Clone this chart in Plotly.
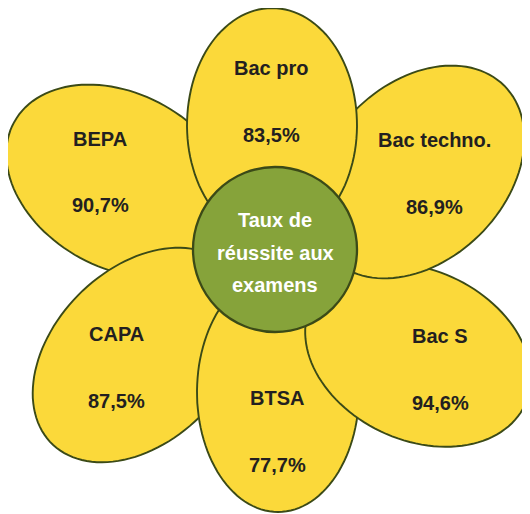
import numpy as np
import plotly.graph_objects as go

# data
exams = ["BEPA", "CAPA", "BTSA", "Bac S", "Bac techno.", "Bac pro"]
success_rate = [90.7, 87.5, 77.7, 94.6, 86.9, 83.5]
centre_title = ["Taux de", "réussite aux", "examens"]

# petal geometry (pixels, y down): centre x, centre y, half-length, half-width, tilt in degrees
petal_cx = [121, 140, 278, 418, 418, 272]
petal_cy = [181, 355, 392, 355, 172, 125]
petal_a = [122, 125, 120, 118, 122, 117]
petal_b = [87, 86, 81, 85, 88, 85]
petal_tilt = [151, 45, 270, -25, 45, 90]
# label anchors
name_x = [100, 116, 277, 440, 434, 271]
name_y = [139, 334, 398, 336, 140, 68]
value_y = [205, 401, 465, 403, 207, 135]

YELLOW = "#FBD93A"
EDGE = "#3B4A17"
GREEN = "#86A33A"
FONT = "Liberation Sans Narrow, Arial Narrow, Liberation Sans, Arial, sans-serif"
PAGE_MARGIN = 8  # default body margin of the html page


def ellipse_path(cx, cy, a, b, tilt):
    t = np.linspace(0, 2 * np.pi, 120)
    th = np.radians(tilt)
    ux, uy = np.cos(th), -np.sin(th)
    vx, vy = np.sin(th), np.cos(th)
    xs = cx + a * np.cos(t) * ux + b * np.sin(t) * vx
    ys = cy + a * np.cos(t) * uy + b * np.sin(t) * vy
    pts = " L".join(f"{x:.1f},{y:.1f}" for x, y in zip(xs, ys))
    return "M" + pts + " Z"


fig = go.Figure()

shapes = []
for i in range(len(exams)):
    shapes.append(dict(
        type="path",
        path=ellipse_path(petal_cx[i], petal_cy[i], petal_a[i], petal_b[i], petal_tilt[i]),
        fillcolor=YELLOW,
        line=dict(color=EDGE, width=1.9),
        xref="x", yref="y",
    ))
shapes.append(dict(
    type="circle", xref="x", yref="y",
    x0=193, x1=357, y0=167, y1=332,
    fillcolor=GREEN, line=dict(color=EDGE, width=2.3),
))

annotations = []
for i, name in enumerate(exams):
    annotations.append(dict(
        x=name_x[i], y=name_y[i], text=f"<b>{name}</b>", showarrow=False,
        font=dict(family=FONT, size=20, color="#231F20"),
    ))
    annotations.append(dict(
        x=name_x[i], y=value_y[i],
        text="<b>" + f"{success_rate[i]:.1f}".replace(".", ",") + "%</b>",
        showarrow=False,
        font=dict(family=FONT, size=20, color="#231F20"),
    ))
for line_text, yy in zip(centre_title, [220, 253, 285]):
    annotations.append(dict(
        x=275, y=yy, text=f"<b>{line_text}</b>", showarrow=False,
        font=dict(family=FONT, size=20, color="white"),
    ))

fig.update_layout(
    width=530, height=514,
    margin=dict(l=0, r=0, t=0, b=0),
    paper_bgcolor="white", plot_bgcolor="white",
    xaxis=dict(range=[PAGE_MARGIN, 530 + PAGE_MARGIN], visible=False, fixedrange=True),
    yaxis=dict(range=[514 + PAGE_MARGIN, PAGE_MARGIN], visible=False, fixedrange=True),
    shapes=shapes,
    annotations=annotations,
    showlegend=False,
)

fig.write_html("out.html")
